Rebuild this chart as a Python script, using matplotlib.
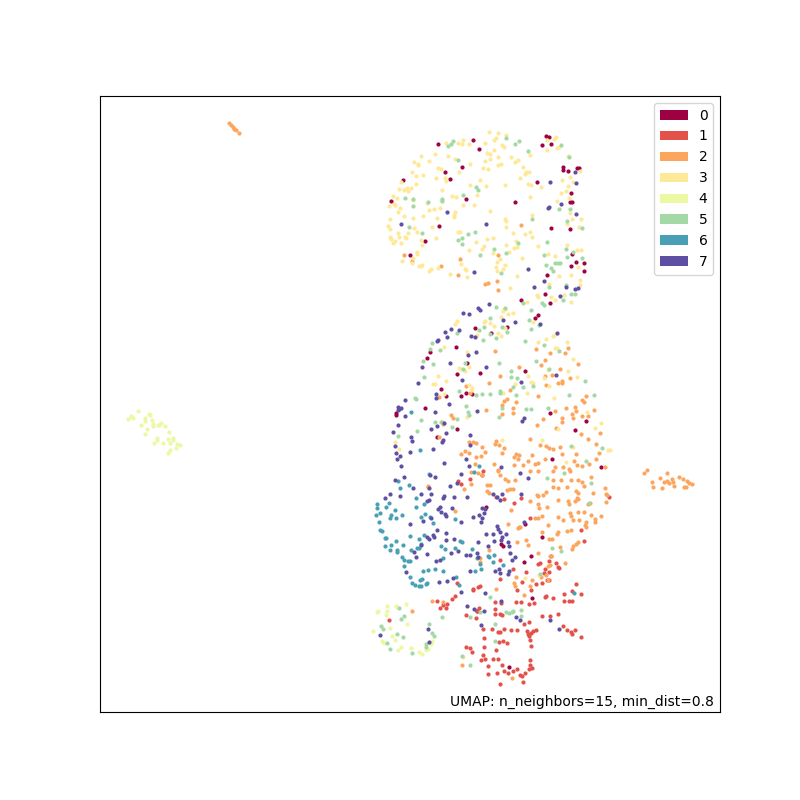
#!/usr/bin/python
# coding=utf-8
import numpy as np
import matplotlib
matplotlib.use('Agg')
import matplotlib.pyplot as plt
from matplotlib.patches import Patch

# embedding points per label, units are arbitrary (y grows downwards)
label_0 = [(546,136),(549,137),(551,144),(542,145),(438,144),(473,140),(479,149),(462,167),(445,172),(450,179),(403,180),(391,201),(466,199),(515,202),(537,182),(563,167),(563,170),(568,171),(577,168),(579,168),(571,193),(570,202),(572,202),(551,228),(570,229),(439,226),(425,241),(410,255),(572,254),(576,262),(584,263),(571,266),(584,271),(547,275),(545,294),(550,303),(521,300),
           (538,315),(535,318),(507,327),(475,328),(491,333),(456,347),(430,352),(427,358),(467,363),(457,374),(480,373),(525,371),(441,389),(466,393),(472,394),(461,396),(446,396),(425,408),(396,413),(396,415),(550,413),(457,429),(437,437),(575,430),(586,421),(552,459),(601,467),
           (486,507),(525,524),(542,537),(501,544),(503,546),(531,556),(524,562),(532,598),(509,667),(477,611)]
label_1 = [(458,481),(461,484),(470,479),(483,471),(482,475),(521,498),(514,503),(496,497),(504,499),(530,518),(581,530),(584,541),(551,556),(500,560),(513,569),(526,572),(545,569),(540,563),(538,564),(549,561),(556,563),(558,567),(559,568),(549,572),(544,573),(542,583),(536,584),(500,579),(517,590),(522,582),(531,590),(547,580),(549,580),(576,584),(572,591),(564,594),(581,594),(569,601),(572,601),(564,601),(546,596),(545,597),(553,598),(521,602),(516,602),(529,604),(534,603),(457,583),(473,589),(473,590),(478,587),(480,586),(455,596),(452,599),(437,601),(443,605),(447,604),(440,608),(446,608),(501,603),(495,602),(495,609),(495,614),(500,614),(502,615),(477,611),(479,608),(466,615),(476,618),(542,616),(550,616),(558,614),(529,622),(524,624),(389,620),(483,629),(492,629),(498,632),(500,632),(504,629),(511,630),(517,630),(527,631),(528,634),(531,633),(533,631),(536,630),(529,636),(530,640),(531,646),(484,638),(484,647),(499,642),(503,641),(507,643),(496,650),(563,626),(567,630),(571,632),(572,634),(575,630),(581,637),(466,647),(470,648),(472,652),(483,655),(485,659),(481,660),(493,659),(498,659),(488,666),(502,665),(488,674),(497,673),(504,671),(508,673),(513,671),(517,669),(520,675),(522,676),(525,673),(530,660),(530,665),(532,668),(529,669),(523,682),(500,684),(609,497)]
label_2 = [(229,123),(231,125),(233,127),(234,129),(236,130),(239,133),
           (644,473),(647,470),(652,482),(653,487),(660,478),(662,488),(664,482),(667,473),(667,481),(669,483),(672,479),(673,482),(674,486),(679,477),(683,479),(684,487),(686,487),(687,481),(689,483),(692,484),
           (521,225),(498,255),(460,259),(441,266),(412,261),(404,255),(458,275),(497,281),(488,283),(485,284),(498,290),
           (495,351),(536,349),(550,353),(568,348),(565,353),(545,360),(541,365),(578,364),(560,369),(519,367),(500,376),(545,376),(552,375),(570,378),(562,381),(562,383),(558,383),(546,385),(489,383),(466,386),(439,397),(470,393),(510,390),(538,396),(586,396),(582,400),(584,402),(516,402),(507,399),(504,401),(502,405),(513,408),(513,413),(502,414),(486,410),(451,415),(453,418),(442,422),(443,424),(439,437),(555,411),(566,408),(575,407),(576,411),(594,410),(582,416),(572,414),(573,418),(588,416),(562,418),(562,422),(543,419),(537,425),(556,428),(581,434),(600,433),(588,439),(596,444),(546,446),(540,445),(549,448),(560,447),(562,454),(553,449),(545,459),(530,439),(519,455),(516,454),(502,453),(504,448),(499,445),(495,444),(496,441),(461,454),(465,451),(469,453),(476,457),(481,456),(485,452),(482,447),(476,443),(473,442),(469,442),(599,453),(576,454),(574,461),(514,457),(532,455),
           (475,464),(494,464),(498,470),(514,465),(523,465),(528,461),(535,464),(538,463),(555,467),(563,467),(569,469),(577,465),(582,466),(589,464),(596,459),(605,467),(518,459),
           (428,486),(428,487),(464,489),(471,484),(471,472),(478,473),(482,475),(498,471),(500,475),(505,479),(508,481),(515,480),(530,471),(538,471),(553,471),(570,471),(487,485),(490,485),(487,491),(489,493),(507,490),(510,489),(513,489),(511,510),(508,524),(520,527),(518,528),(519,527),(553,480),(561,480),(571,480),(578,480),(582,482),(584,486),(591,477),(553,487),(558,488),(567,487),(576,491),(578,493),(593,493),(605,488),(606,494),(607,495),(606,502),(546,492),(543,495),(537,495),(538,496),(530,501),(538,504),(539,508),(547,507),(558,500),(568,501),(569,504),(577,498),(578,499),(575,501),(588,504),(590,503),(578,512),(584,512),(570,513),(571,516),(558,517),(563,520),(573,520),(579,520),(586,522),(585,525),(586,527),(595,519),(595,522),(591,515),(601,516),(535,518),(538,518),(542,516),(548,525),(571,530),(567,531),(558,532),(557,534),(542,532),(549,539),(552,539),(560,547),(578,542),(576,544),(573,546),(572,549),(517,542),(526,540),(528,545),(489,550),(538,553),(550,556),(551,556),(548,566),(550,565),(541,577),(546,575),(548,580),(565,563),(532,580),(516,577),(514,583),(515,586),(496,589),(524,595),(530,586),(432,601),(443,602),(455,511),(480,562),(480,558),(512,678),(462,665),(412,611)]
label_3 = [(489,132),(498,133),(506,135),(496,138),(494,140),(485,143),(463,140),(458,143),(462,144),(469,144),(446,143),(502,145),(504,147),(494,150),(487,153),(490,154),(498,157),(511,157),(530,155),(435,154),(421,156),(448,156),(455,159),(414,162),(418,164),(418,165),(429,161),(485,161),(490,159),(518,160),(515,162),(470,164),(498,165),(501,164),(483,168),(488,169),(523,167),(526,172),(529,172),(525,174),(438,168),(441,169),(412,172),(416,176),(423,175),(459,172),(436,178),(445,178),(446,181),(401,182),(416,184),(480,180),(520,178),(528,184),(531,185),(470,185),(486,186),(505,185),(541,187),(399,189),(404,190),(407,188),(411,188),(408,191),(442,190),(477,195),(393,196),(397,198),(452,196),(456,197),(530,197),(547,140),(554,139),(556,137),(547,150),(557,148),(559,147),(568,156),(580,171),(562,180),(570,177),(573,182),(568,186),(561,193),(566,191),(557,201),(569,198),(570,213),(572,219),(581,219),(567,224),(579,227),(389,206),(394,204),(395,205),(400,208),(398,212),(429,210),(434,209),(440,208),(413,200),(427,203),(441,200),(463,205),(474,205),(490,211),(455,212),(454,215),(454,217),(404,216),(413,218),(423,216),(437,218),(390,219),(388,226),(390,229),(432,227),(414,228),(417,232),(398,233),(408,233),(399,237),(405,237),(406,238),(390,237),(391,239),(395,241),(393,243),(401,243),(421,240),(436,238),(422,245),(458,232),(460,232),(505,219),(506,221),(506,227),(513,233),(525,234),(530,232),(532,237),(532,215),(487,239),(493,238),(476,242),(506,245),(516,241),(469,250),(484,246),(482,249),(493,253),(500,259),(497,262),(496,267),(514,248),(517,247),(509,252),(522,258),(538,246),(548,254),(555,256),(567,245),(577,250),(581,250),(417,252),(417,254),(402,261),(412,263),(413,258),(422,265),(421,266),(419,266),(431,269),(429,271),(438,268),(461,264),(465,269),(466,270),(450,274),(467,277),(505,265),(503,269),(497,271),(517,276),(559,276),(571,275),(580,280),(578,267),(580,285),(549,284),(510,288),(537,295),(538,297),(551,297),(564,295),(555,300),(571,302),(527,302),(504,309),
           (503,311),(505,309),(508,314),(513,313),(485,321),(490,323),(494,326),(484,322),(457,321),(455,324),(501,317),(533,322),(505,328),(498,333),(501,336),(477,335),(538,342),(553,336),(546,339),(556,334),(567,342),(555,348),(557,348),(444,347),(467,352),(573,359),(459,368),(461,369),(469,367),(465,371),(438,376),(446,381),(433,384),(435,384),(548,370),(528,376),(515,384),(568,371),(577,377),(544,378),(531,382),(533,383),(549,386),(469,385),(472,388),(471,390),(444,394),(527,393),(503,393),(554,398),(587,412),(467,417),(601,423),(595,428),(558,429),(502,440),(542,440),(395,442),(399,449),(573,447),(608,450),(610,450),(566,462),
           (525,578),(539,575),(463,657)]
label_4 = [(378,611),(377,612),(387,606),(396,606),(397,607),(406,604),(387,611),(386,615),(407,624),(390,628),(373,631),(392,636),(395,640),(401,647),(398,650),(411,648),(419,652),(422,654),(426,650),(428,649),(431,644),(432,641),(382,641),(384,643),
           (128,419),(131,416),(133,418),(138,411),(149,414),(150,415),(145,418),(145,421),(152,420),(153,424),(153,426),(141,425),(158,425),(159,425),(161,423),(165,426),(147,429),(145,434),(169,432),(157,438),(157,440),(154,443),(163,443),(168,439),(173,438),(173,440),(170,443),(177,444),(180,445),(176,448),(170,450),(168,453)]
label_5 = [(453,141),(451,144),(448,146),(506,138),(519,141),(515,144),(528,151),(561,145),(569,157),(458,160),(476,187),(478,190),(463,195),(405,198),(413,199),(413,206),(428,202),(442,199),(442,201),(409,227),(422,233),(475,232),(468,234),(462,238),(458,240),(462,244),(532,219),(570,209),(567,221),(582,228),(547,242),(566,249),(573,252),(518,243),(494,249),(480,255),(506,253),(544,255),(567,257),(582,258),(555,263),(558,263),(560,263),(546,265),(551,268),(553,271),(501,273),(549,287),(566,285),(571,294),(563,300),(575,294),(542,303),(544,305),(523,303),(496,307),(505,308),(531,310),(559,209),
           (529,320),(539,325),(490,318),(484,327),(479,330),(457,333),(502,327),(507,332),(490,334),(496,338),(483,340),(525,341),(531,329),(432,343),(430,349),(440,350),(423,361),(433,364),(499,363),(465,363),(463,369),(424,377),(536,361),(544,345),(559,351),(549,369),(511,371),(511,377),(517,378),(513,387),(523,387),(533,386),(459,391),(500,391),(500,393),(490,394),(482,394),(476,395),(516,395),(569,395),(594,395),(585,381),(415,398),(416,399),(466,406),(468,412),(469,415),(502,408),(499,417),(526,409),(531,409),(548,408),(421,420),(435,422),(441,422),(452,427),(457,419),(417,431),(398,436),(586,461),(602,448),(571,446),
           (547,478),(564,473),(591,483),(589,503),(552,548),(561,551),(540,574),(490,597),(442,617),(480,612),(506,612),(509,613),(512,612),(513,611),(521,610),(521,616),(470,617),(495,624),(381,626),(383,629),(397,634),(403,637),(401,619),(404,616),(399,608),(429,624),(432,633),(434,636),(426,644),(426,647),(412,653),(390,649),(387,643),(462,656),(470,665),(495,641)]
label_6 = [(411,412),(420,450),(479,466),(429,474),(398,481),(400,488),(409,485),(389,503),(386,507),(377,504),(377,508),(380,513),(376,515),(395,510),(402,515),(390,518),(391,515),(396,518),(416,498),(416,507),(424,504),(425,514),(421,517),(430,517),(433,523),(455,519),(379,522),(380,530),(382,531),(410,536),(385,538),(386,538),(396,541),(403,545),(385,546),(390,550),(391,545),(397,550),(397,552),(411,550),(419,539),(424,535),(421,544),(417,548),(419,548),(441,546),(445,549),(455,548),(460,541),(462,542),(472,549),(488,556),(489,557),(477,558),(494,555),(402,557),(404,560),(408,561),(410,561),(404,566),(410,577),(443,558),(480,564),(481,569),(493,562),(503,565),(475,571),(423,571),(428,570),(435,569),(443,571),(412,583),(415,585),(420,580),(422,579),(419,586),(421,586),(426,584),(427,583),(456,577),(459,585),(474,472),(574,593)]
label_7 = [(550,182),(576,183),(575,172),(447,212),(401,224),(486,224),(561,204),(549,207),(548,208),(576,214),(528,269),(474,272),(544,281),(534,287),(566,287),(575,289),(578,288),(560,296),(489,304),(478,308),
           (480,310),(463,313),(469,314),(503,320),(515,322),(540,324),(557,333),(451,329),(459,330),(445,332),(447,337),(438,340),(437,341),(471,336),(475,337),(476,352),(468,355),(450,363),(422,367),(486,367),(462,380),(418,383),(521,382),(556,375),(436,394),(436,398),(405,400),(449,404),(398,407),(398,410),(401,408),(399,409),(405,416),(435,412),(477,411),(524,418),(522,421),(398,425),(437,426),(444,423),(431,429),(393,432),(411,437),(412,441),(446,433),(470,435),(443,440),(442,442),(470,445),(395,446),(433,449),(410,452),(396,453),(400,456),(397,459),(401,466),(444,463),(466,459),(469,466),(501,467),
           (395,480),(404,477),(430,475),(435,477),(461,474),(450,486),(457,483),(429,488),(390,494),(385,498),(400,496),(413,488),(421,494),(431,494),(444,496),(443,498),(427,501),(429,500),(454,497),(467,497),(493,494),(502,494),(497,497),(500,500),(521,494),(520,473),(528,478),(440,507),(438,509),(441,512),(452,508),(445,514),(446,516),(423,521),(431,518),(410,524),(461,522),(473,517),(479,515),(482,508),(485,509),(484,513),(481,522),(482,518),(497,526),(498,529),(500,532),(493,534),(486,534),(502,537),(506,534),(494,541),(501,540),(508,542),(509,546),(510,553),(515,557),(512,560),(524,522),(437,530),(446,533),(427,537),(429,539),(433,535),(434,537),(421,545),(414,552),(446,540),(454,539),(478,542),(488,546),(416,557),(427,554),(436,561),(440,560),(451,553),(458,551),(466,555),(470,555),(478,557),(406,572),(470,571),(495,571),(499,569),(500,573),(509,571),(508,574),(439,582),(447,581),(453,578),(461,592),(485,593),(501,601),(467,606),(474,609),(484,611),(516,617),(520,620),(550,620),(481,625),(559,629),(428,629),(380,635),(429,642),(477,553)]

labels = ['0', '1', '2', '3', '4', '5', '6', '7']
all_points = [label_0, label_1, label_2, label_3, label_4, label_5, label_6, label_7]
colors = plt.get_cmap('Spectral')(np.linspace(0, 1, len(labels)))

fig, ax = plt.subplots(figsize=(8, 8), dpi=100)
for points, color in zip(all_points, colors):
    xs, ys = zip(*points)
    ax.scatter(xs, ys, s=4, color=color)

handles = [Patch(facecolor=c, label=l) for c, l in zip(colors, labels)]
ax.legend(handles=handles, loc='upper right')
ax.text(0.99, 0.01, 'UMAP: n_neighbors=15, min_dist=0.8',
        transform=ax.transAxes, ha='right')

ax.set_xlim(100, 720)
ax.set_ylim(712, 96)
ax.set_xticks([])
ax.set_yticks([])
fig.savefig('out.png')
